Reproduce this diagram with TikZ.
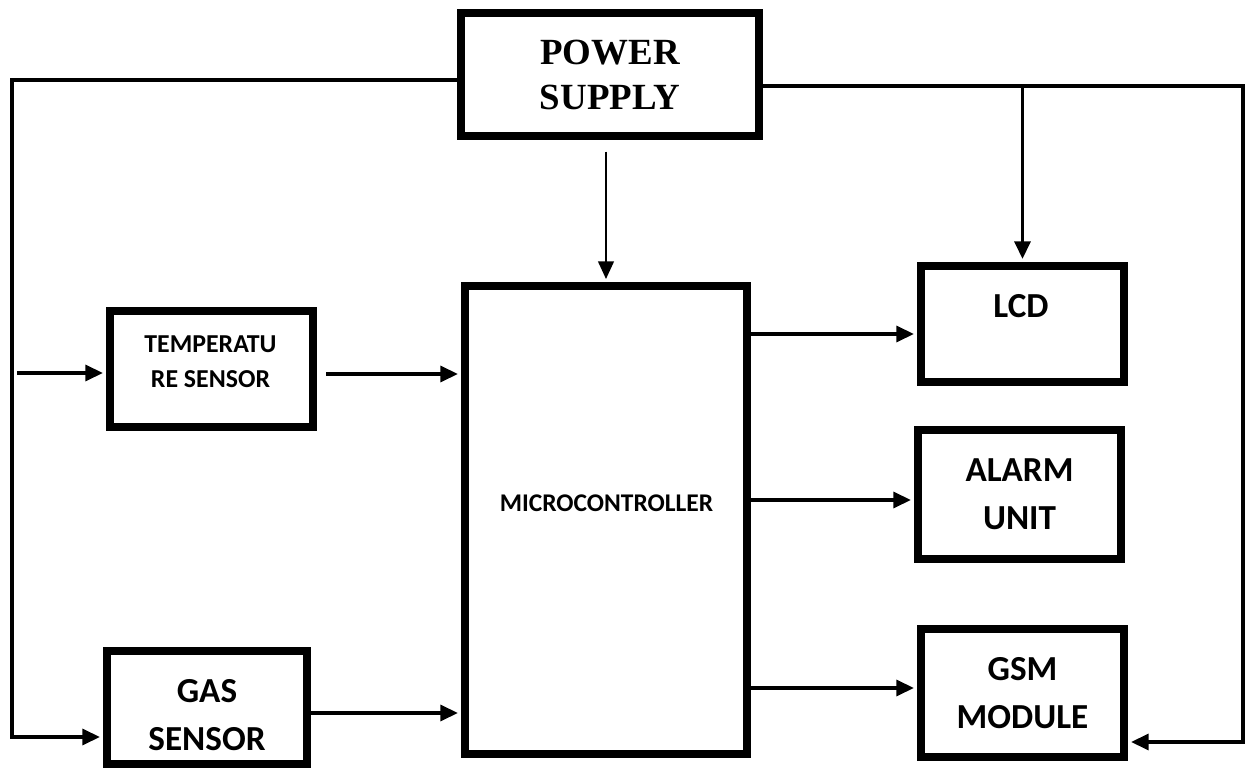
\documentclass[tikz,border=0pt]{standalone}
\usepackage{fontspec}
\setmainfont{Liberation Serif}
\newfontfamily\carlito{Carlito}
\usetikzlibrary{arrows.meta}
\begin{document}
\begin{tikzpicture}[line join=miter,blk/.style={draw=black,line width=4pt,inner sep=0pt},wire/.style={line width=2pt},thinwire/.style={line width=.9pt},arr/.style={-{Triangle[length=10pt,width=9pt]},shorten >=2pt},psfont/.style={font=\bfseries\fontsize{21}{25.6}\selectfont},bigfont/.style={font=\carlito\bfseries\fontsize{20}{27.2}\selectfont},smallfont/.style={font=\carlito\bfseries\fontsize{14.7}{20}\selectfont},microfont/.style={font=\carlito\bfseries\fontsize{14.5}{17}\selectfont}]\useasboundingbox (0,0) rectangle (24.9,15.38);
\node[blk,minimum width=5.96cm,minimum height=2.46cm,align=center,psfont] (power) at (12.2,13.89) {POWER\\SUPPLY};
\node[blk,minimum width=5.64cm,minimum height=9.36cm] (micro) at (12.12,4.98) {};
\node[anchor=base,microfont] (microtxt) at (12.13,5.14) {MICROCONTROLLER};
\node[blk,minimum width=4.06cm,minimum height=2.32cm] (temp) at (4.23,8) {};
\node[align=center,smallfont] (temptxt) at (4.21,8.14) {TEMPERATU\\RE SENSOR};
\node[blk,minimum width=4cm,minimum height=2.26cm] (gas) at (4.14,1.23) {};
\node[align=center,bigfont] (gastxt) at (4.14,1.08) {GAS\\SENSOR};
\node[blk,minimum width=4.06cm,minimum height=2.32cm] (lcd) at (20.45,8.9) {};
\node[anchor=base,bigfont] (lcdtxt) at (20.42,9.02) {LCD};
\node[blk,minimum width=4.06cm,minimum height=2.58cm,align=center,bigfont] (alarm) at (20.39,5.49) {ALARM\\UNIT};
\node[blk,minimum width=4.06cm,minimum height=2.56cm,align=center,bigfont] (gsm) at (20.45,1.52) {GSM\\MODULE};
\coordinate (ltop) at (.24,13.78);
\coordinate (lbot) at (.24,.64);
\coordinate (tin) at (.34,7.92);
\coordinate (rtop) at (24.86,13.66);
\coordinate (rbot) at (24.86,.54);
\coordinate (tempout) at ([yshift=-1mm]temp.east);
\coordinate (gasout) at ([yshift=-1.1mm]gas.east);
\coordinate (lcdin) at ([yshift=-2mm]lcd.west);
\coordinate (alarmin) at ([yshift=-1.1mm]alarm.west);
\coordinate (gsmin) at ([yshift=1mm]gsm.west);
\draw[wire,arr] (power.west |- ltop) -- (ltop) -- (lbot) -- (gas.west |- lbot);
\draw[wire,arr] (tin) -- (temp.west |- tin);
\draw[wire,arr,shorten <=1.9mm] (tempout) -- (micro.west |- tempout);
\draw[wire,arr] (gasout) -- (micro.west |- gasout);
\draw[thinwire,arr,shorten <=2.4mm] (micro.north |- power.south) -- (micro.north);
\draw[wire,arr] (micro.east |- lcdin) -- (lcdin);
\draw[wire,arr] (micro.east |- alarmin) -- (alarmin);
\draw[wire,arr] (micro.east |- gsmin) -- (gsmin);
\draw[wire,arr] (power.east |- rtop) -- (rtop) -- (rbot) -- (gsm.east |- rbot);
\draw[wire,arr] (lcd.north |- rtop) -- (lcd.north);
\end{tikzpicture}
\end{document}
